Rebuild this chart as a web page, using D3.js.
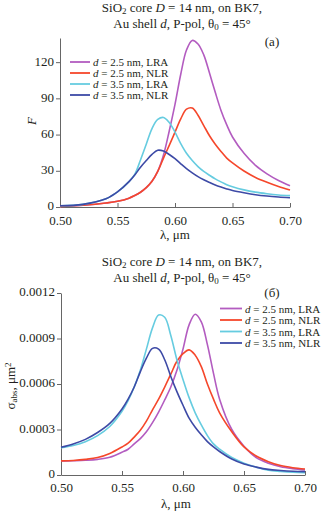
<!DOCTYPE html>
<html>
<head>
<meta charset="utf-8">
<script src="https://cdn.jsdelivr.net/npm/d3@7"></script>
<style>
  body { margin: 0; background: #fff; }
  svg text { font-family: "Liberation Serif", "Times New Roman", serif; fill: #231f20; }
</style>
</head>
<body>
<div id="chart"></div>
<script>
// series names / colors (same order in both panels)
var seriesNames = ["2.5 nm, LRA", "2.5 nm, NLR", "3.5 nm, LRA", "3.5 nm, NLR"];
var seriesColors = ["#b35cc0", "#f5472b", "#66cce0", "#3d4aa6"];

// panel (a): field enhancement F vs wavelength (um)
var lamTop = [0.50, 0.52, 0.54, 0.55, 0.56, 0.565, 0.57, 0.575, 0.58, 0.585, 0.59, 0.595, 0.60,
              0.605, 0.61, 0.615, 0.62, 0.625, 0.63, 0.635, 0.64, 0.645, 0.65, 0.66, 0.67, 0.68, 0.69, 0.70];
var fLra25 = [0.5, 1.5, 3.3, 4.7, 7.3, 9.5, 12.2, 16, 21.3, 29.5, 43, 63, 85,
              110, 130, 138, 135, 126, 111, 95, 80, 68, 58, 44.5, 34.5, 27.5, 22, 17.6];
var fNlr25 = [0.5, 1.5, 3.3, 4.7, 7.3, 9.5, 12.2, 16, 21.3, 29.5, 40.5, 51, 62,
              73, 81, 82, 76, 67.5, 59, 52, 46, 40.5, 36.5, 29.8, 24.5, 20.5, 17, 14];
var fLra35 = [1.0, 2.2, 6.8, 12.5, 21, 27, 39, 52, 65, 72.5, 74.2, 70, 62,
              52.5, 44.5, 38.5, 33.5, 29.5, 26.3, 23.3, 20.8, 18.5, 16.8, 14.2, 12.3, 11, 10, 9.4];
var fNlr35 = [1.0, 2.2, 6.8, 12.5, 21, 26.5, 33, 38.5, 43.6, 47, 46.3, 43.5, 40,
              35.8, 31.8, 28.3, 25.2, 22.6, 20.3, 18.2, 16.5, 15, 13.7, 11.8, 10.2, 9.1, 8.3, 7.7];

// panel (б): absorption cross section, um^2
var lamBot = [0.50, 0.51, 0.52, 0.53, 0.54, 0.55, 0.555, 0.56, 0.565, 0.57, 0.575, 0.58, 0.585, 0.59,
              0.595, 0.60, 0.605, 0.61, 0.615, 0.62, 0.625, 0.63, 0.64, 0.65, 0.66, 0.67, 0.68, 0.69, 0.70];
var sLra25 = [0.92, 0.94, 0.97, 1.03, 1.17, 1.5, 1.7, 2.05, 2.4, 2.85, 3.45, 4.15, 4.95, 5.8,
              6.9, 8.3, 9.9, 10.6, 10.1, 8.6, 6.7, 5.0, 3.0, 1.9, 1.15, 0.78, 0.55, 0.42, 0.33].map(v => v * 1e-4);
var sNlr25 = [0.93, 0.96, 1.03, 1.15, 1.42, 1.85, 2.1, 2.5, 2.95, 3.55, 4.3, 5.0, 5.8, 6.65,
              7.5, 8.0, 8.25, 7.9, 7.15, 6.0, 5.0, 4.1, 2.85, 1.85, 1.25, 0.88, 0.62, 0.48, 0.40].map(v => v * 1e-4);
var sLra35 = [1.8, 1.95, 2.2, 2.6, 3.2, 4.2, 4.9, 5.8, 6.9, 8.3, 9.7, 10.55, 10.4, 9.2,
              7.6, 6.3, 5.1, 4.1, 3.3, 2.6, 2.05, 1.7, 1.15, 0.78, 0.52, 0.32, 0.24, 0.18, 0.15].map(v => v * 1e-4);
var sNlr35 = [1.83, 2.05, 2.35, 2.8, 3.4, 4.35, 5.0, 5.8, 6.8, 7.7, 8.35, 8.3, 7.6, 6.5,
              5.5, 4.6, 3.75, 3.15, 2.65, 2.2, 1.85, 1.55, 1.05, 0.72, 0.52, 0.37, 0.3, 0.25, 0.22].map(v => v * 1e-4);

var xTicks = [0.50, 0.55, 0.60, 0.65, 0.70];
var yTicksTop = [0, 30, 60, 90, 120];
var yTicksBot = [0, 0.0003, 0.0006, 0.0009, 0.0012];

var svg = d3.select("#chart").append("svg")
    .attr("width", 321)
    .attr("height", 511);

function title(y) {
    var t1 = svg.append("text").attr("x", 182).attr("y", y).attr("text-anchor", "middle").style("font-size", "13px");
    t1.append("tspan").text("SiO");
    t1.append("tspan").text("2").attr("baseline-shift", "-25%").style("font-size", "9px");
    t1.append("tspan").text(" core ");
    t1.append("tspan").text("D").style("font-style", "italic");
    t1.append("tspan").text(" = 14 nm, on BK7,");

    var t2 = svg.append("text").attr("x", 182).attr("y", y + 16).attr("text-anchor", "middle").style("font-size", "13px");
    t2.append("tspan").text("Au shell ");
    t2.append("tspan").text("d").style("font-style", "italic");
    t2.append("tspan").text(", P-pol, θ");
    t2.append("tspan").text("0").attr("baseline-shift", "-25%").style("font-size", "9px");
    t2.append("tspan").text(" = 45°");
}

function panel(opt) {
    var x = d3.scaleLinear().domain([0.5, 0.7]).range(opt.xr);
    var y = d3.scaleLinear().domain(opt.yd).range(opt.yr);
    var g = svg.append("g");

    var xAxis = g.append("g")
        .attr("transform", "translate(0," + opt.yr[0] + ")")
        .call(d3.axisBottom(x).tickValues(xTicks).tickFormat(d3.format(".2f")).tickSizeInner(-4).tickSizeOuter(0));
    xAxis.selectAll("text").attr("dy", null).attr("y", opt.xTickY).style("font-size", "13px");

    var yAxis = g.append("g")
        .attr("transform", "translate(" + opt.xr[0] + ",0)")
        .call(d3.axisLeft(y).tickValues(opt.yTicks).tickFormat(opt.fmt).tickSizeInner(4).tickSizeOuter(0));
    yAxis.selectAll("text").attr("x", -6).attr("dy", "0.22em").style("font-size", "13px");

    g.selectAll(".domain, .tick line").attr("stroke", "#666").attr("stroke-width", 1);
    g.selectAll(".tick text").attr("fill", "#231f20").style("font-family", '"Liberation Serif", serif');

    var line = d3.line()
        .x(d => x(d[0]))
        .y(d => y(d[1]))
        .curve(d3.curveCatmullRom.alpha(0.5));

    opt.series.forEach(function(s, i) {
        g.append("path")
            .datum(opt.lam.map((l, j) => [l, s[j]]))
            .attr("d", line)
            .attr("fill", "none")
            .attr("stroke", seriesColors[i])
            .attr("stroke-width", 1.6);
    });

    // legend
    seriesNames.forEach(function(name, i) {
        var ly = opt.leg[1] + i * opt.leg[3];
        g.append("line")
            .attr("x1", opt.leg[0]).attr("x2", opt.leg[0] + opt.leg[2])
            .attr("y1", ly).attr("y2", ly)
            .attr("stroke", seriesColors[i]).attr("stroke-width", 1.8);
        var t = g.append("text")
            .attr("x", opt.leg[0] + opt.leg[2] + 3).attr("y", ly + 4)
            .style("font-size", "11px");
        t.append("tspan").text("d").style("font-style", "italic");
        t.append("tspan").text(" = " + name);
    });

    g.append("text").attr("x", 272).attr("y", opt.tag[1]).attr("text-anchor", "middle")
        .style("font-size", "13px").text(opt.tag[0]);

    g.append("text").attr("x", opt.xlab[0]).attr("y", opt.xlab[1]).attr("text-anchor", "middle")
        .style("font-size", "13px").text("λ, μm");
    return g;
}

title(12);
panel({
    xr: [60, 290], yr: [207, 38], yd: [0, 140],
    yTicks: yTicksTop, fmt: d3.format("d"),
    lam: lamTop, series: [fLra25, fNlr25, fLra35, fNlr35],
    leg: [70, 62, 20, 11],
    tag: ["(a)", 46],
    xTickY: 18,
    xlab: [175, 239]
});
svg.append("text")
    .attr("transform", "translate(36,121) rotate(-90)")
    .attr("text-anchor", "middle")
    .style("font-size", "13px").style("font-style", "italic")
    .text("F");

title(266);
panel({
    xr: [61, 305], yr: [475, 293], yd: [0, 0.0012],
    yTicks: yTicksBot, fmt: d => d === 0 ? "0" : d.toFixed(4),
    lam: lamBot, series: [sLra25, sNlr25, sLra35, sNlr35],
    leg: [220, 308.5, 22, 11.5],
    tag: ["(б)", 297],
    xTickY: 17,
    xlab: [176, 508]
});
var yl = svg.append("text")
    .attr("transform", "translate(15,386) rotate(-90)")
    .attr("text-anchor", "middle")
    .style("font-size", "13px");
yl.append("tspan").text("σ");
yl.append("tspan").text("abs").attr("baseline-shift", "-25%").style("font-size", "9px");
yl.append("tspan").text(", μm");
yl.append("tspan").text("2").attr("baseline-shift", "40%").style("font-size", "9px");
</script>
</body>
</html>
